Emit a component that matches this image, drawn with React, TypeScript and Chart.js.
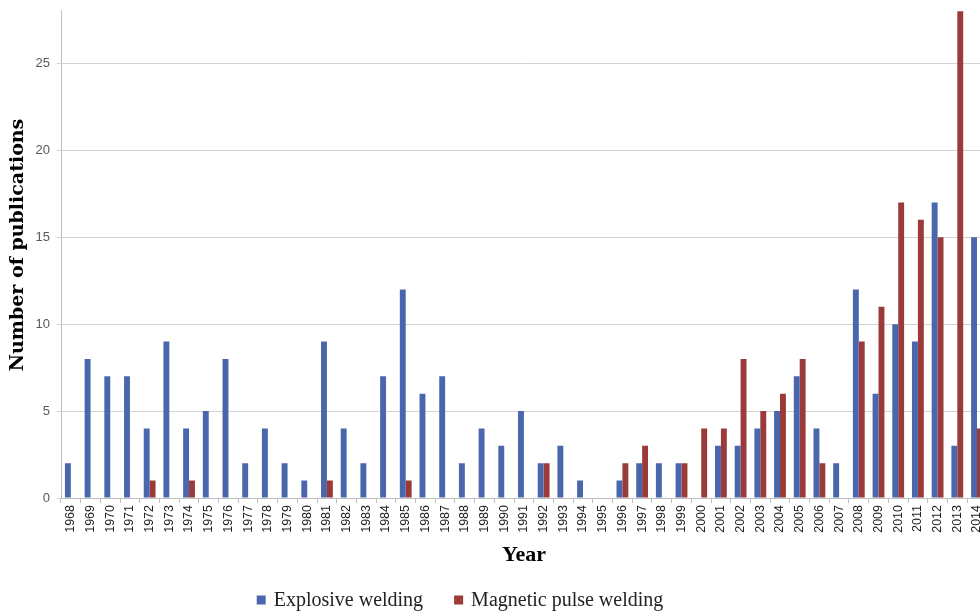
import React, { useEffect, useRef } from "react";
import { Chart, registerables } from "chart.js";

Chart.register(...registerables);

const years: string[] = [
  "1968","1969","1970","1971","1972","1973","1974","1975","1976","1977",
  "1978","1979","1980","1981","1982","1983","1984","1985","1986","1987",
  "1988","1989","1990","1991","1992","1993","1994","1995","1996","1997",
  "1998","1999","2000","2001","2002","2003","2004","2005","2006","2007",
  "2008","2009","2010","2011","2012","2013","2014",
];

const explosiveWelding: number[] = [
  2, 8, 7, 7, 4, 9, 4, 5, 8, 2,
  4, 2, 1, 9, 4, 2, 7, 12, 6, 7,
  2, 4, 3, 5, 2, 3, 1, 0, 1, 2,
  2, 2, 0, 3, 3, 4, 5, 7, 4, 2,
  12, 6, 10, 9, 17, 3, 15,
];

const magneticPulseWelding: number[] = [
  0, 0, 0, 0, 1, 0, 1, 0, 0, 0,
  0, 0, 0, 1, 0, 0, 0, 1, 0, 0,
  0, 0, 0, 0, 2, 0, 0, 0, 2, 3,
  0, 2, 4, 4, 8, 5, 6, 8, 2, 0,
  9, 11, 17, 16, 15, 28, 4,
];

const seriesNames: string[] = ["Explosive welding", "Magnetic pulse welding"];
const seriesColors: string[] = ["#4A66AC", "#9A3B3A"];
const yTickValues: number[] = [0, 5, 10, 15, 20, 25];
const yAxisTitle = "Number of publications";
const xAxisTitle = "Year";

const annotationsPlugin = {
  id: "annotationsPlugin",
  afterDraw(chart: any) {
    const ctx = chart.ctx;
    const area = chart.chartArea;
    ctx.save();
    // y-axis title
    ctx.translate(18, 245);
    ctx.rotate(-Math.PI / 2);
    ctx.font = "bold 19px 'DejaVu Serif'";
    ctx.fillStyle = "#000";
    ctx.textAlign = "center";
    ctx.textBaseline = "middle";
    ctx.fillText(yAxisTitle, 0, 0);
    ctx.restore();

    // x-axis title
    ctx.save();
    ctx.font = "bold 22px 'Liberation Serif'";
    ctx.fillStyle = "#000";
    ctx.textAlign = "center";
    ctx.textBaseline = "alphabetic";
    ctx.fillText(xAxisTitle, (area.left + area.right) / 2, 561);
    ctx.restore();

    // legend
    ctx.save();
    ctx.font = "20px 'Liberation Serif'";
    ctx.textBaseline = "middle";
    ctx.textAlign = "left";
    const box = 9;
    const gapBoxText = 8;
    const gapItems = 31;
    const widths = seriesNames.map((n) => box + gapBoxText + ctx.measureText(n).width);
    const total = widths.reduce((a, b) => a + b, 0) + gapItems * (seriesNames.length - 1);
    let x = 460 - total / 2;
    const y = 600;
    seriesNames.forEach((n, i) => {
      ctx.fillStyle = seriesColors[i];
      ctx.fillRect(x, y - box / 2, box, box);
      ctx.fillStyle = "#222";
      ctx.fillText(n, x + box + gapBoxText, y + 1);
      x += widths[i] + gapItems;
    });
    ctx.restore();
  },
};

export default function App() {
  const ref = useRef<HTMLCanvasElement | null>(null);

  useEffect(() => {
    if (!ref.current) return;
    const chart = new Chart(ref.current, {
      type: "bar",
      data: {
        labels: years,
        datasets: [
          {
            label: seriesNames[0],
            data: explosiveWelding,
            backgroundColor: seriesColors[0],
            categoryPercentage: 0.6,
            barPercentage: 1.0,
          },
          {
            label: seriesNames[1],
            data: magneticPulseWelding,
            backgroundColor: seriesColors[1],
            categoryPercentage: 0.6,
            barPercentage: 1.0,
          },
        ],
      },
      options: {
        animation: false,
        responsive: true,
        maintainAspectRatio: false,
        layout: { padding: { top: 10, left: 0, right: 0, bottom: 0 } },
        plugins: {
          tooltip: { enabled: false },
          legend: { display: false },
        },
        scales: {
          x: {
            afterFit: (scale: any) => {
              scale.height = 116;
            },
            grid: {
              drawOnChartArea: false,
              tickLength: 5,
              color: "#BFBFBF",
            },
            border: { color: "#BFBFBF" },
            ticks: {
              minRotation: 90,
              maxRotation: 90,
              autoSkip: false,
              color: "#222",
              padding: 2,
              font: { family: "'Liberation Sans'", size: 12.5 },
            },
          },
          y: {
            min: 0,
            max: 28.07,
            afterBuildTicks: (axis: any) => {
              axis.ticks = yTickValues.map((v) => ({ value: v }));
            },
            afterFit: (scale: any) => {
              scale.width = 61;
              scale.paddingTop = 0;
              scale.paddingBottom = 0;
            },
            grid: { color: "#D3D3D3", tickLength: 4 },
            border: { color: "#BFBFBF" },
            ticks: {
              color: "#595959",
              padding: 7,
              font: { family: "'Liberation Sans'", size: 13 },
            },
          },
        },
      },
      plugins: [annotationsPlugin],
    });
    return () => chart.destroy();
  }, []);

  return (
    <div
      style={{
        position: "fixed",
        left: 0,
        top: 0,
        width: 980,
        height: 614,
        overflow: "hidden",
        background: "#fff",
      }}
    >
      <div style={{ position: "relative", width: 994, height: 614 }}>
        <canvas ref={ref} />
      </div>
    </div>
  );
}
